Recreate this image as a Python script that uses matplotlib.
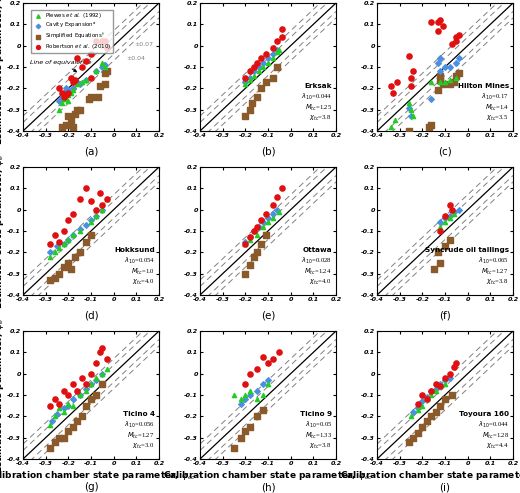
import matplotlib
matplotlib.use("Agg")
import matplotlib.pyplot as plt
import numpy as np

panels = ["(a)","(b)","(c)","(d)","(e)","(f)","(g)","(h)","(i)"]
sand_names = [None,"Erksak","Hilton Mines","Hokksund","Ottawa","Syncrude oil tailings","Ticino 4","Ticino 9","Toyoura 160"]
lam = [None,"0.044","0.17","0.054","0.028","0.065","0.056","0.05","0.044"]
Mtc = [None,"1.25","1.4","1.0","1.24","1.27","1.27","1.33","1.28"]
chi = [None,"3.8","3.5","4.0","4.0","3.8","3.0","3.8","4.4"]

plewes_x = [
 [-0.24,-0.23,-0.22,-0.21,-0.2,-0.19,-0.18,-0.16,-0.14,-0.12,-0.08,-0.05,-0.04,-0.2,-0.22],
 [-0.2,-0.18,-0.16,-0.14,-0.12,-0.1,-0.08,-0.06,-0.05],
 [-0.34,-0.32,-0.26,-0.25,-0.24,-0.16,-0.12,-0.1,-0.08,-0.05],
 [-0.28,-0.26,-0.24,-0.22,-0.2,-0.18,-0.15,-0.1,-0.08,-0.05,-0.03],
 [-0.2,-0.18,-0.15,-0.12,-0.1,-0.08,-0.05],
 [-0.12,-0.1,-0.08,-0.06],
 [-0.28,-0.26,-0.24,-0.22,-0.2,-0.18,-0.15,-0.12,-0.1,-0.08,-0.05,-0.03],
 [-0.25,-0.22,-0.2,-0.18,-0.15,-0.12,-0.1],
 [-0.25,-0.22,-0.2,-0.18,-0.16,-0.14,-0.12,-0.1],
]
plewes_y = [
 [-0.3,-0.27,-0.25,-0.25,-0.26,-0.22,-0.21,-0.18,-0.17,-0.16,-0.12,-0.08,-0.1,-0.23,-0.24],
 [-0.18,-0.16,-0.14,-0.12,-0.1,-0.08,-0.06,-0.03,-0.02],
 [-0.38,-0.35,-0.27,-0.3,-0.33,-0.17,-0.17,-0.17,-0.16,-0.15],
 [-0.22,-0.2,-0.18,-0.16,-0.14,-0.12,-0.1,-0.06,-0.03,0.0,0.05],
 [-0.16,-0.14,-0.12,-0.08,-0.06,-0.04,-0.01],
 [-0.08,-0.06,-0.04,-0.02],
 [-0.24,-0.2,-0.16,-0.18,-0.14,-0.15,-0.1,-0.08,-0.05,-0.02,0.0,0.02],
 [-0.1,-0.12,-0.1,-0.08,-0.12,-0.1,-0.05],
 [-0.2,-0.17,-0.15,-0.12,-0.1,-0.08,-0.06,-0.05],
]
cavity_x = [
 [-0.24,-0.23,-0.22,-0.21,-0.2,-0.18,-0.16,-0.15,-0.12,-0.08,-0.05,-0.04],
 [-0.2,-0.18,-0.16,-0.14,-0.12,-0.1,-0.08,-0.06],
 [-0.26,-0.25,-0.16,-0.13,-0.12,-0.12,-0.1,-0.08,-0.05,-0.04],
 [-0.28,-0.25,-0.22,-0.2,-0.18,-0.15,-0.12,-0.1,-0.08,-0.05],
 [-0.2,-0.18,-0.16,-0.14,-0.12,-0.1,-0.08,-0.06],
 [-0.12,-0.1,-0.08,-0.06,-0.04],
 [-0.27,-0.25,-0.22,-0.2,-0.18,-0.15,-0.12,-0.1,-0.08,-0.05],
 [-0.22,-0.2,-0.18,-0.15,-0.12,-0.1],
 [-0.24,-0.22,-0.2,-0.18,-0.16,-0.14,-0.12,-0.1,-0.08],
]
cavity_y = [
 [-0.26,-0.24,-0.22,-0.2,-0.21,-0.2,-0.17,-0.18,-0.16,-0.12,-0.1,-0.09],
 [-0.17,-0.15,-0.12,-0.1,-0.08,-0.06,-0.04,-0.02],
 [-0.29,-0.33,-0.25,-0.08,-0.06,-0.12,-0.1,-0.1,-0.08,-0.06],
 [-0.2,-0.17,-0.16,-0.14,-0.12,-0.09,-0.07,-0.05,-0.03,0.0],
 [-0.15,-0.13,-0.1,-0.08,-0.06,-0.04,-0.02,0.0],
 [-0.06,-0.04,-0.03,-0.01,0.0],
 [-0.22,-0.19,-0.16,-0.15,-0.12,-0.1,-0.07,-0.05,-0.03,0.0],
 [-0.14,-0.12,-0.1,-0.08,-0.05,-0.03],
 [-0.18,-0.16,-0.13,-0.11,-0.08,-0.07,-0.05,-0.03,-0.02],
]
simp_x = [
 [-0.23,-0.21,-0.2,-0.19,-0.18,-0.17,-0.16,-0.15,-0.11,-0.1,-0.07,-0.06,-0.04,-0.04,-0.03],
 [-0.2,-0.18,-0.17,-0.15,-0.13,-0.11,-0.08,-0.06],
 [-0.26,-0.17,-0.16,-0.13,-0.12,-0.12,-0.11,-0.08,-0.06,-0.05,-0.04],
 [-0.28,-0.26,-0.24,-0.22,-0.2,-0.19,-0.17,-0.15,-0.12,-0.1],
 [-0.2,-0.18,-0.16,-0.15,-0.13,-0.11],
 [-0.15,-0.13,-0.12,-0.1,-0.08],
 [-0.28,-0.26,-0.24,-0.22,-0.2,-0.18,-0.16,-0.14,-0.12,-0.1,-0.08,-0.05],
 [-0.25,-0.22,-0.2,-0.18,-0.15,-0.12],
 [-0.26,-0.24,-0.22,-0.2,-0.18,-0.16,-0.14,-0.12,-0.1,-0.07],
]
simp_y = [
 [-0.38,-0.37,-0.33,-0.35,-0.38,-0.32,-0.3,-0.3,-0.25,-0.24,-0.24,-0.19,-0.13,-0.18,-0.12],
 [-0.33,-0.3,-0.27,-0.24,-0.2,-0.17,-0.15,-0.1],
 [-0.4,-0.38,-0.37,-0.21,-0.16,-0.14,-0.18,-0.18,-0.17,-0.14,-0.13],
 [-0.33,-0.32,-0.3,-0.27,-0.25,-0.28,-0.22,-0.2,-0.15,-0.12],
 [-0.3,-0.26,-0.22,-0.2,-0.16,-0.12],
 [-0.28,-0.2,-0.25,-0.17,-0.14],
 [-0.35,-0.32,-0.3,-0.3,-0.27,-0.25,-0.22,-0.2,-0.15,-0.12,-0.1,-0.05],
 [-0.35,-0.3,-0.27,-0.25,-0.2,-0.17],
 [-0.32,-0.3,-0.28,-0.25,-0.22,-0.2,-0.18,-0.15,-0.12,-0.1],
]
rob_x = [
 [-0.24,-0.23,-0.22,-0.21,-0.2,-0.19,-0.18,-0.17,-0.16,-0.14,-0.12,-0.1,-0.1,-0.08,-0.05,-0.04,-0.03],
 [-0.2,-0.18,-0.16,-0.15,-0.13,-0.11,-0.08,-0.06,-0.04,-0.04],
 [-0.34,-0.33,-0.31,-0.26,-0.25,-0.25,-0.24,-0.16,-0.13,-0.13,-0.12,-0.11,-0.07,-0.05,-0.05,-0.04],
 [-0.28,-0.26,-0.24,-0.22,-0.2,-0.18,-0.15,-0.12,-0.1,-0.08,-0.06,-0.05,-0.03],
 [-0.2,-0.18,-0.16,-0.15,-0.13,-0.11,-0.08,-0.06,-0.04],
 [-0.12,-0.1,-0.08,-0.07],
 [-0.28,-0.26,-0.24,-0.22,-0.2,-0.18,-0.16,-0.14,-0.12,-0.1,-0.08,-0.06,-0.05,-0.03],
 [-0.2,-0.18,-0.15,-0.12,-0.1,-0.08,-0.05],
 [-0.22,-0.2,-0.18,-0.16,-0.14,-0.12,-0.1,-0.08,-0.06,-0.05],
]
rob_y = [
 [-0.2,-0.22,-0.24,-0.23,-0.22,-0.15,-0.17,-0.16,-0.06,-0.1,-0.07,-0.15,-0.04,0.02,0.02,0.02,-0.01],
 [-0.15,-0.12,-0.1,-0.08,-0.06,-0.04,-0.01,0.02,0.04,0.08],
 [-0.19,-0.22,-0.17,-0.05,-0.15,-0.19,-0.12,0.11,0.07,0.11,0.12,0.09,0.01,0.02,0.04,0.05],
 [-0.16,-0.12,-0.15,-0.1,-0.05,-0.02,0.05,0.1,0.04,0.0,0.08,0.02,0.05],
 [-0.16,-0.13,-0.1,-0.08,-0.05,-0.02,0.02,0.06,0.1],
 [-0.1,-0.03,0.02,0.0],
 [-0.15,-0.12,-0.14,-0.08,-0.1,-0.05,-0.08,-0.02,-0.05,0.0,0.05,0.1,0.12,0.07],
 [-0.05,0.0,0.02,0.08,0.05,0.07,0.1],
 [-0.14,-0.1,-0.12,-0.08,-0.05,-0.06,-0.02,0.0,0.03,0.05],
]

W, H = 520, 493
plt.rcParams['font.family'] = 'DejaVu Sans'
fig = plt.figure(figsize=(W/100, H/100), dpi=100)
lefts = [23/W, 200/W, 377/W]
tops = [1-3/H, 1-167/H, 1-331/H]
aw, ah = 136/W, 128/H
ticks = [-0.4,-0.3,-0.2,-0.1,0,0.1,0.2]
lab = ["-0.4","-0.3","-0.2","-0.1","0","0.1","0.2"]
line = np.array([-0.4, 0.2])
for i in range(9):
    r, c = divmod(i, 3)
    ax = fig.add_axes([lefts[c], tops[r]-ah, aw, ah])
    ax.set_xlim(-0.4, 0.2); ax.set_ylim(-0.4, 0.2)
    ax.plot(line, line, color='k', lw=0.9)
    for d in (-0.07, -0.04, 0.04, 0.07):
        ax.plot(line, line + d, color='gray', lw=0.7, ls=(0, (6, 4)))
    ax.scatter(simp_x[i], simp_y[i], marker='s', s=14, color='#8B5A2B', zorder=3)
    ax.scatter(cavity_x[i], cavity_y[i], marker='D', s=8, color='#4a90e2', zorder=4)
    ax.scatter(plewes_x[i], plewes_y[i], marker='^', s=9, color='#22cc22', zorder=4)
    ax.scatter(rob_x[i], rob_y[i], marker='o', s=14, color='#e01010', zorder=5)
    ax.set_xticks(ticks); ax.set_yticks(ticks)
    ax.set_xticklabels(lab, fontsize=4.6, fontstyle='italic', fontweight='bold')
    ax.set_yticklabels(lab, fontsize=4.6, fontstyle='italic', fontweight='bold')
    ax.tick_params(direction='in', length=2, pad=1.5, top=True, right=True)
    bottom_px = (1 - (tops[r]-ah)) * H
    cx = (lefts[c] + aw/2)
    if r == 2:
        ax.set_xlabel("Calibration chamber state parameter, $\\psi_{cc}$", fontsize=6.5,
                      fontweight='bold', labelpad=2)
        fig.text(cx, 1-487/H, panels[i], ha='center', va='center', fontsize=7.5)
    else:
        fig.text(cx, 1-(bottom_px+21)/H, panels[i], ha='center', va='center', fontsize=7.5)
    if c == 0:
        ax.set_ylabel("Estimated state parameter, $\\psi_e$", fontsize=6.5, fontweight='bold', labelpad=1)
    if i > 0:
        ax.text(0.97, 0.33, sand_names[i], transform=ax.transAxes, ha='right', va='bottom',
                fontsize=5.2, fontweight='bold')
        ax.text(0.97, 0.31, f"$\\lambda_{{10}}$={lam[i]}\n$M_{{tc}}$={Mtc[i]}\n$\\chi_{{tc}}$={chi[i]}",
                transform=ax.transAxes, ha='right', va='top', fontsize=4.8,
                family='Liberation Serif', linespacing=1.15)
    else:
        ax.scatter([], [], marker='^', s=6, color='#22cc22', label='Plewes $et$ $al.$ (1992)')
        ax.scatter([], [], marker='D', s=5, color='#4a90e2', label='Cavity Expansion$^a$')
        ax.scatter([], [], marker='s', s=8, color='#8B5A2B', label='Simplified Equations$^{\\dagger}$')
        ax.scatter([], [], marker='o', s=8, color='#e01010', label='Robertson $et$ $al.$ (2010)')
        ax.legend(loc='upper left', fontsize=4.0, frameon=True, handletextpad=0.1, borderpad=0.3,
                  labelspacing=0.15, edgecolor='gray', fancybox=False, bbox_to_anchor=(0.04, 0.97))
        ax.annotate("Line of equivalence", xy=(-0.15, -0.13), xytext=(-0.37, -0.085), fontsize=4.6,
                    fontstyle='italic', arrowprops=dict(arrowstyle='-|>', color='k', lw=0.6))
        ax.text(0.055, -0.065, "±0.04", fontsize=4.5, color='gray')
        ax.text(0.09, 0.0, "±0.07", fontsize=4.5, color='gray')
fig.savefig("out.png", dpi=100)
